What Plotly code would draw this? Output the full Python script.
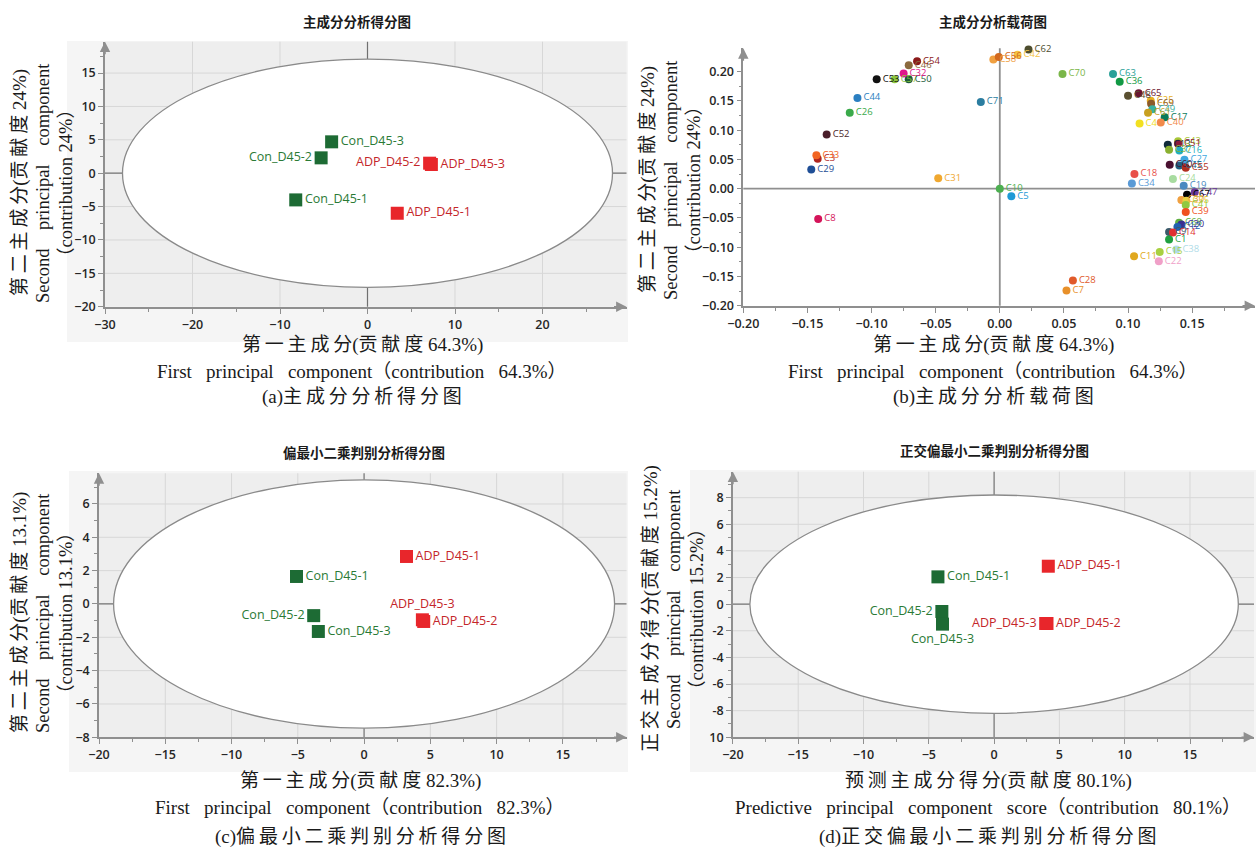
import plotly.graph_objects as go

W, H = 1258, 851

# ---------------- score data ----------------
samples = ["Con_D45-1", "Con_D45-2", "Con_D45-3", "ADP_D45-1", "ADP_D45-2", "ADP_D45-3"]
groups = ["Con", "Con", "Con", "ADP", "ADP", "ADP"]

pca_t1 = [-8.2, -5.3, -4.1, 3.4, 7.1, 7.3]
pca_t2 = [-4.0, 2.3, 4.7, -6.0, 1.5, 1.3]

plsda_t1 = [-5.1, -3.8, -3.45, 3.2, 4.5, 4.4]
plsda_t2 = [1.65, -0.7, -1.65, 2.85, -1.05, -0.95]

oplsda_tp = [-4.3, -4.0, -3.95, 4.15, 4.05, 3.95]
oplsda_to = [2.05, -0.55, -1.5, 2.85, -1.45, -1.45]

# Hotelling T2 ellipse half-axes (t1, t2)
pca_ellipse = [28.0, 17.1]
plsda_ellipse = [18.9, 7.45]
oplsda_ellipse = [18.7, 8.2]

# ---------------- loading data ----------------
load_names = ["C29", "C3", "C33", "C52", "C26", "C44", "C53", "C57", "C50", "C32",
              "C46", "C54", "C31", "C8", "C10", "C5", "C71", "C58", "C56", "C42",
              "C62", "C70", "C63", "C36", "C48", "C65", "C25", "C69", "C49", "C61",
              "C17", "C40", "C4", "C13", "C43", "C51", "C37", "C16", "C60", "C27",
              "C45", "C55", "C18", "C34", "C24", "C19", "C47", "C67", "C30", "C35",
              "C41", "C39", "C68", "C20", "C12", "C9", "C14", "C1", "C38", "C15",
              "C22", "C11", "C28", "C7"]
load_p1 = [-0.147, -0.142, -0.143, -0.135, -0.117, -0.111, -0.096, -0.082, -0.071, -0.075,
           -0.071, -0.0645, -0.048, -0.1416, 0.0, 0.009, -0.0148, -0.005, -0.0008, 0.0138,
           0.0224, 0.0489, 0.0883, 0.0935, 0.100, 0.1083, 0.1177, 0.118, 0.119, 0.1156,
           0.1286, 0.1255, 0.109, 0.131, 0.139, 0.139, 0.132, 0.140, 0.1325, 0.144,
           0.140, 0.145, 0.105, 0.103, 0.135, 0.1434, 0.152, 0.146, 0.1416, 0.1455,
           0.145, 0.145, 0.1398, 0.1416, 0.1385, 0.132, 0.135, 0.132, 0.1377, 0.1247,
           0.124, 0.1047, 0.057, 0.052]
load_p2 = [0.033, 0.051, 0.057, 0.0925, 0.130, 0.155, 0.187, 0.187, 0.187, 0.197,
           0.211, 0.218, 0.018, -0.052, 0.0, -0.013, 0.148, 0.221, 0.225, 0.229,
           0.238, 0.196, 0.196, 0.183, 0.159, 0.163, 0.1505, 0.145, 0.136, 0.130,
           0.122, 0.113, 0.1115, 0.075, 0.081, 0.077, 0.0667, 0.0655, 0.041, 0.0495,
           0.0397, 0.0357, 0.025, 0.009, 0.0167, 0.005, -0.006, -0.0103, -0.0195, -0.0207,
           -0.028, -0.0397, -0.058, -0.061, -0.0655, -0.074, -0.075, -0.0868, -0.104, -0.108,
           -0.124, -0.1155, -0.157, -0.174]
load_colors = ["#1f4e96", "#b0241e", "#f26522", "#4a1e2a", "#3aaa4a", "#2a7fc1", "#111111", "#8dc63f", "#1e5c3a", "#e0188c",
               "#8b6a3e", "#8b1a1a", "#f0a830", "#d4145a", "#4caf50", "#1e9ad6", "#2b7da0", "#f0a040", "#d2691e", "#f5c342",
               "#4d4d2e", "#7ab648", "#2aa198", "#119944", "#5a5030", "#6b1530", "#e8b020", "#8b5a2b", "#3ab0a0", "#c8a020",
               "#0a7a5a", "#f28a4a", "#f2e020", "#0f2a3a", "#a8c838", "#8b1a3a", "#8ab030", "#20b0c0", "#4a1030", "#40a8e0",
               "#206080", "#b03020", "#e8504a", "#5a9ad6", "#a8dca0", "#4a8ac0", "#6a3a9a", "#000000", "#f0a040", "#e8d040",
               "#90c840", "#f05020", "#60b040", "#3a3090", "#2060b0", "#3a5a6a", "#e03030", "#20a040", "#b0dce8", "#a8d040",
               "#f0a0c8", "#e0a820", "#e05a2a", "#e8902a"]

GROUP_MARK = {"Con": "#1d6b34", "ADP": "#e8262b"}
GROUP_TEXT = {"Con": "#2a7a35", "ADP": "#c4262a"}

AX_GRAY = "#8f8f8f"
TICK_FONT = dict(family="Open Sans, DejaVu Sans", size=12.5, color="#262626", weight=600)
CJK_BOLD = "Noto Sans CJK SC"
SERIF = "Liberation Serif, Noto Sans CJK SC"


def px_x(px):
    return px / W


def px_y(py):
    return 1 - py / H


def frange(start, stop, step):
    vals, v = [], start
    while v <= stop + 1e-9:
        vals.append(round(v, 6))
        v += step
    return vals


def loose(text):
    """Open up CJK text with thin spaces between the characters."""
    out = []
    for i, ch in enumerate(text):
        out.append(ch)
        if i + 1 < len(text) and ord(ch) > 0x2E80 and ord(text[i + 1]) > 0x2E80:
            out.append("\u2009")
    return "".join(out)


fig = go.Figure()


def make_axis(dom, rng, dtick, minor_dtick, anchor, **kw):
    d = dict(domain=dom, range=rng, tick0=0, dtick=dtick, anchor=anchor, automargin=False,
             showline=True, linecolor=AX_GRAY, linewidth=1.6,
             ticks="outside", ticklen=5, tickwidth=1, tickcolor=AX_GRAY,
             tickfont=TICK_FONT, zeroline=False, fixedrange=True, showgrid=False,
             minor=dict(tickmode="linear", tick0=0, dtick=minor_dtick, ticks="outside",
                        ticklen=3, tickcolor=AX_GRAY, showgrid=False))
    d.update(kw)
    return d


# panel pixel boxes: (left, right, top, bottom)
boxes = {
    "a": (105, 626.5, 41.7, 306.7),
    "b": (743.3, 1255, 48.3, 305.7),
    "c": (99, 626.5, 473.3, 737.3),
    "d": (732.9, 1254, 471.7, 737.3),
}

specs = [
    ("a", "x", "y", [-30, 29.6], [-20, 19.7], 10, 5, 5, 2.5, {}),
    ("b", "x2", "y2", [-0.2, 0.199], [-0.2, 0.24], 0.05, 0.025, 0.05, 0.025,
     dict(tickformat=".2f")),
    ("c", "x3", "y3", [-20, 19.8], [-8, 7.84], 5, 2.5, 2, 1, {}),
    ("d", "x4", "y4", [-20, 19.9], [-10, 9.95], 5, 2.5, 2, 1, {}),
]
layout_axes = {}
for key, xa, ya, xr, yr, xdt, xmd, ydt, ymd, extra in specs:
    l, r, t, b = boxes[key]
    layout_axes["xaxis" + xa[1:]] = make_axis([px_x(l), px_x(r)], xr, xdt, xmd, ya, **extra)
    yextra = dict(extra)
    if key == "d":
        yvals = frange(-10, 8, 2)
        yextra.update(tickmode="array", tickvals=yvals,
                      ticktext=["10"] + [str(int(v)) for v in yvals[1:]])
    layout_axes["yaxis" + ya[1:]] = make_axis([px_y(b), px_y(t)], yr, ydt, ymd, xa, **yextra)

shapes = []
annotations = []

# light frames behind the score plots
frames = {"a": (67, 628, 41, 342), "c": (69, 628, 471, 772), "d": (690, 1256, 470, 772)}
for key, (l, r, t, b) in frames.items():
    shapes.append(dict(type="rect", xref="paper", yref="paper", x0=px_x(l), x1=px_x(r),
                       y0=px_y(b), y1=px_y(t), fillcolor="#f5f5f5", line=dict(width=0),
                       layer="below"))

# score plot backgrounds, grid, and confidence ellipse (grid is hidden by the ellipse)
score_panels = [("x", "y", specs[0], pca_ellipse),
                ("x3", "y3", specs[2], plsda_ellipse),
                ("x4", "y4", specs[3], oplsda_ellipse)]
for xa, ya, spec, (ea, eb) in score_panels:
    xr, yr, xdt, ydt = spec[3], spec[4], spec[5], spec[7]
    shapes.append(dict(type="rect", xref=xa + " domain", yref=ya + " domain", x0=0, x1=1,
                       y0=0, y1=1, fillcolor="#eeeeee", line=dict(width=0), layer="below"))
    for gx in frange(xr[0] + xdt, xr[1], xdt):
        if abs(gx) > 1e-9:
            shapes.append(dict(type="line", xref=xa, yref=ya + " domain", x0=gx, x1=gx,
                               y0=0, y1=1, line=dict(color="#d7d7d7", width=1),
                               layer="below"))
    for gy in frange(yr[0] + ydt, yr[1], ydt):
        if abs(gy) > 1e-9:
            shapes.append(dict(type="line", xref=xa + " domain", yref=ya, x0=0, x1=1,
                               y0=gy, y1=gy, line=dict(color="#d7d7d7", width=1),
                               layer="below"))
    shapes.append(dict(type="circle", xref=xa, yref=ya, x0=-ea, x1=ea, y0=-eb, y1=eb,
                       fillcolor="white", line=dict(color="#8a8a8a", width=1.3),
                       layer="below"))

# cross lines through the origin and axis arrows
for xa, ya, col, wd in [("x", "y", "#707070", 1.2), ("x2", "y2", AX_GRAY, 1.8),
                        ("x3", "y3", "#707070", 1.2), ("x4", "y4", "#707070", 1.2)]:
    shapes.append(dict(type="line", xref=xa, yref=ya + " domain", x0=0, x1=0, y0=0, y1=1,
                       line=dict(color=col, width=wd), layer="below"))
    shapes.append(dict(type="line", xref=xa + " domain", yref=ya, x0=0, x1=1, y0=0, y1=0,
                       line=dict(color=col, width=wd), layer="below"))
    annotations.append(dict(xref=xa + " domain", yref=ya + " domain", x=1, y=0, text="",
                            showarrow=True, ax=-14, ay=0, arrowhead=2, arrowsize=1.3,
                            arrowwidth=1.6, arrowcolor=AX_GRAY))
    annotations.append(dict(xref=xa + " domain", yref=ya + " domain", x=0, y=1, text="",
                            showarrow=True, ax=0, ay=14, arrowhead=2, arrowsize=1.3,
                            arrowwidth=1.6, arrowcolor=AX_GRAY))


def score_trace(t1, t2, positions, xa, ya):
    return go.Scatter(
        x=t1, y=t2, xaxis=xa, yaxis=ya, mode="markers+text", text=samples,
        textposition=positions, cliponaxis=False, showlegend=False, hoverinfo="skip",
        marker=dict(symbol="square", size=13, color=[GROUP_MARK[g] for g in groups],
                    line=dict(width=0)),
        textfont=dict(family="Open Sans, DejaVu Sans", size=12.5,
                      color=[GROUP_TEXT[g] for g in groups]))


fig.add_trace(score_trace(pca_t1, pca_t2,
                          ["middle right", "middle left", "middle right", "middle right",
                           "middle left", "middle right"], "x", "y"))
fig.add_trace(score_trace(plsda_t1, plsda_t2,
                          ["middle right", "middle left", "middle right", "middle right",
                           "middle right", "top center"], "x3", "y3"))
fig.add_trace(score_trace(oplsda_tp, oplsda_to,
                          ["middle right", "middle left", "bottom center", "middle right",
                           "middle right", "middle left"], "x4", "y4"))

fig.add_trace(go.Scatter(
    x=load_p1, y=load_p2, xaxis="x2", yaxis="y2", mode="markers+text", text=load_names,
    textposition="middle right", cliponaxis=False, showlegend=False, hoverinfo="skip",
    marker=dict(size=8, color=load_colors, line=dict(width=0)),
    textfont=dict(family="Open Sans, DejaVu Sans", size=9.5, color=load_colors)))


def label(text, x, y, size, family=SERIF, angle=0, color="#1a1a1a"):
    annotations.append(dict(xref="paper", yref="paper", x=px_x(x), y=px_y(y), text=text,
                            showarrow=False, textangle=angle, xanchor="center",
                            yanchor="middle", font=dict(family=family, size=size,
                                                        color=color)))


sp = "\u00a0\u00a0\u00a0"
wide = "\u00a0\u00a0\u00a0\u00a0"
# panel titles
label("<b>主成分分析得分图</b>", 357, 21, 13.5, CJK_BOLD)
label("<b>主成分分析载荷图</b>", 993, 21, 13.5, CJK_BOLD)
label("<b>偏最小二乘判别分析得分图</b>", 364, 452, 13.5, CJK_BOLD)
label("<b>正交偏最小二乘判别分析得分图</b>", 995, 450, 13.5, CJK_BOLD)

# x-axis titles and captions
for cx, y0, cn, en, cap in [
    (362, 345, "第一主成分(贡献度 64.3%)", f"First{sp}principal{sp}component（contribution{sp}64.3%）", "(a)主成分分析得分图"),
    (993, 345, "第一主成分(贡献度 64.3%)", f"First{sp}principal{sp}component（contribution{sp}64.3%）", "(b)主成分分析载荷图"),
    (360, 781, "第一主成分(贡献度 82.3%)", f"First{sp}principal{sp}component（contribution{sp}82.3%）", "(c)偏最小二乘判别分析得分图"),
    (988, 781, "预测主成分得分(贡献度 80.1%)", f"Predictive{sp}principal{sp}component{sp}score（contribution{sp}80.1%）", "(d)正交偏最小二乘判别分析得分图"),
]:
    label(loose(cn), cx, y0, 19)
    label(en, cx, y0 + 26, 19)
    label(loose(cap), cx, y0 + 52 + (4 if y0 > 700 else 0), 19)

# y-axis titles
for x1, cy, cn, en, ct in [
    (20, 183, "第二主成分(贡献度 24%)", f"Second{wide}principal{wide}component", "（contribution 24%）"),
    (648, 180, "第二主成分(贡献度 24%)", f"Second{wide}principal{wide}component", "（contribution 24%）"),
    (20, 613, "第二主成分(贡献度 13.1%)", f"Second{wide}principal{wide}component", "（contribution 13.1%）"),
    (651, 609, "正交主成分得分(贡献度 15.2%)", f"Second{wide}principal{wide}component", "（contribution 15.2%）"),
]:
    label(loose(cn), x1, cy, 19, angle=-90)
    label(en, x1 + 23, cy, 18.5, angle=-90)
    label(ct, x1 + 46, cy, 18.5, angle=-90)

fig.update_layout(width=W, height=H, margin=dict(l=0, r=0, t=0, b=0),
                  paper_bgcolor="white", plot_bgcolor="rgba(0,0,0,0)",
                  shapes=shapes, annotations=annotations, **layout_axes)

fig.write_html("out.html")
